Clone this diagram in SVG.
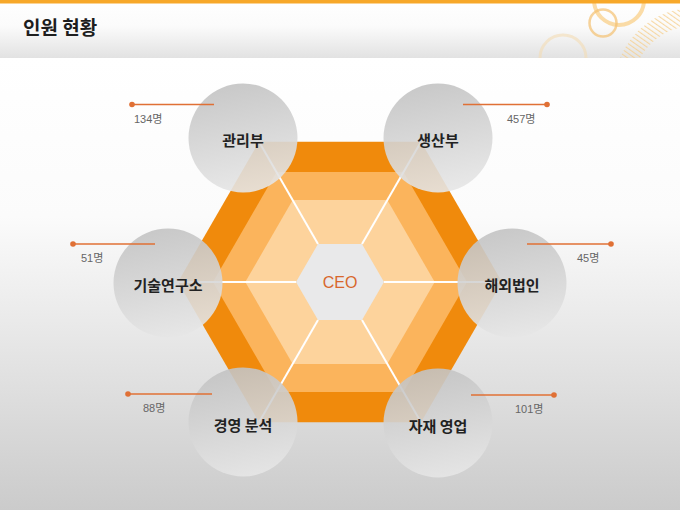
<svg xmlns="http://www.w3.org/2000/svg" width="680" height="510" viewBox="0 0 680 510">
<defs>
<linearGradient id="hdr" x1="0" y1="0" x2="0" y2="1"><stop offset="0" stop-color="#ffffff"/><stop offset="0.45" stop-color="#fbfbfb"/><stop offset="1" stop-color="#e2e2e2"/></linearGradient>
<linearGradient id="body" x1="0" y1="0" x2="0" y2="1"><stop offset="0" stop-color="#ffffff"/><stop offset="0.35" stop-color="#fbfbfb"/><stop offset="1" stop-color="#cbcbcb"/></linearGradient>
<linearGradient id="ball" x1="0.3" y1="0" x2="0.5" y2="1"><stop offset="0" stop-color="#c2c2c2"/><stop offset="1" stop-color="#e6e6e6"/></linearGradient>
<pattern id="hatch" width="4" height="4" patternUnits="userSpaceOnUse" patternTransform="rotate(-55)"><rect width="1.1" height="4" fill="#f6cf8e"/></pattern>
<clipPath id="hclip"><rect x="0" y="3" width="680" height="55"/></clipPath>
<style>
.ball{fill:url(#ball);opacity:0.9}
.lbl{font-family:"Noto Sans CJK KR","Noto Sans",sans-serif;font-weight:bold;font-size:15px;fill:#222;text-anchor:middle;dominant-baseline:central}
.cnt{font-family:"Liberation Sans","Noto Sans CJK KR",sans-serif;font-size:11px;fill:#666}
.lead{stroke:#e07035;stroke-width:1.3}
.dot{fill:#e07035}
.rad{stroke:#ffffff;stroke-width:2}
</style>
</defs>
<rect x="0" y="58" width="680" height="452" fill="url(#body)"/>
<rect x="0" y="0" width="680" height="58" fill="url(#hdr)"/>
<g clip-path="url(#hclip)">
<circle cx="619" cy="0" r="25" fill="none" stroke="#f9d08a" stroke-width="4" opacity="0.75"/>
<circle cx="603" cy="23" r="13.5" fill="none" stroke="#f3c070" stroke-width="2.5" opacity="0.7"/>
<circle cx="563" cy="58" r="23" fill="none" stroke="#f3dcb4" stroke-width="3" opacity="0.6"/>
<path d="M620 58 A80 80 0 0 1 690 8 L690 26 A62 62 0 0 0 640 58 Z" fill="url(#hatch)" opacity="0.8"/>
</g>
<rect x="0" y="0" width="680" height="3.5" fill="#f7a82a"/>
<text x="23" y="35" font-family="Noto Sans CJK KR, Noto Sans, sans-serif" font-weight="bold" font-size="19" fill="#1e1e1e">인원 현황</text>

<g id="hexagon">
<polygon points="178,282 259,141.7 421,141.7 502,282 421,422.3 259,422.3" fill="#f08a0c"/>
<polygon points="213,282 276.5,172 403.5,172 467,282 403.5,392 276.5,392" fill="#fbb45c"/>
<polygon points="245.3,282 292.7,200 387.3,200 434.7,282 387.3,364 292.7,364" fill="#fdd39c"/>
<g class="rad">
<line x1="296" y1="282" x2="178" y2="282"/>
<line x1="384" y1="282" x2="502" y2="282"/>
<line x1="318" y1="244" x2="259" y2="141.7"/>
<line x1="362" y1="244" x2="421" y2="141.7"/>
<line x1="318" y1="320" x2="259" y2="422.3"/>
<line x1="362" y1="320" x2="421" y2="422.3"/>
</g>
</g>
<g id="ceo">
<polygon points="296,282 318,244 362,244 384,282 362,320 318,320" fill="#e9e9ea"/>
<text x="340" y="282" font-family="Liberation Sans, Noto Sans, sans-serif" font-size="16" fill="#d8672d" text-anchor="middle" dominant-baseline="central">CEO</text>
</g>

<g id="n-gwanri"><circle class="ball" cx="243" cy="138" r="54.5"/><text class="lbl" x="243" y="139">관리부</text><text class="cnt" x="134" y="123">134명</text></g>
<g id="n-saengsan"><circle class="ball" cx="438" cy="138" r="54.5"/><text class="lbl" x="438" y="139">생산부</text><text class="cnt" x="507" y="123">457명</text></g>
<g id="n-gisul"><circle class="ball" cx="168" cy="283" r="54.5"/><text class="lbl" x="168" y="284">기술연구소</text><text class="cnt" x="81" y="262">51명</text></g>
<g id="n-haeoe"><circle class="ball" cx="512" cy="283" r="54.5"/><text class="lbl" x="512" y="284">해외법인</text><text class="cnt" x="577" y="262">45명</text></g>
<g id="n-gyeongyeong"><circle class="ball" cx="243" cy="422" r="54.5"/><text class="lbl" x="243" y="424">경영 분석</text><text class="cnt" x="143" y="412">88명</text></g>
<g id="n-jajae"><circle class="ball" cx="438" cy="423" r="54.5"/><text class="lbl" x="438" y="425">자재 영업</text><text class="cnt" x="515" y="413">101명</text></g>

<g id="connectors">
<line class="lead" x1="132" y1="104.5" x2="214" y2="104.5"/><circle class="dot" cx="132" cy="104.5" r="2.8"/>
<line class="lead" x1="73" y1="244" x2="155" y2="244"/><circle class="dot" cx="73" cy="244" r="2.8"/>
<line class="lead" x1="128" y1="394" x2="212" y2="394"/><circle class="dot" cx="128" cy="394" r="2.8"/>
<line class="lead" x1="463" y1="104.5" x2="547" y2="104.5"/><circle class="dot" cx="547" cy="104.5" r="2.8"/>
<line class="lead" x1="527" y1="244" x2="611" y2="244"/><circle class="dot" cx="611" cy="244" r="2.8"/>
<line class="lead" x1="471" y1="395" x2="554" y2="395"/><circle class="dot" cx="554" cy="395" r="2.8"/>
</g>
</svg>
